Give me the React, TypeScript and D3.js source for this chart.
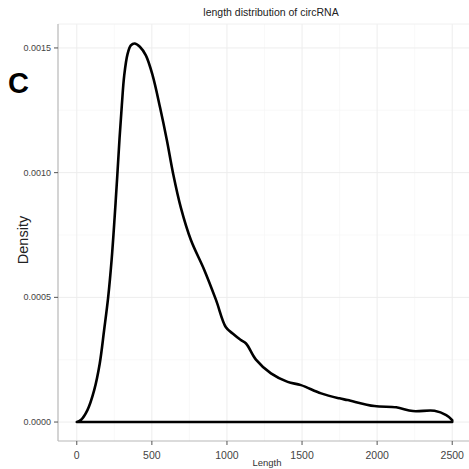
import React from "react";
import * as d3 from "d3";

const lengths = [0, 27, 71, 116, 153, 182, 209, 232, 252, 270, 285, 300, 316, 338, 360, 385, 420, 460, 505, 555, 600, 642, 693, 760, 849, 927, 993, 1038, 1090, 1127, 1193, 1293, 1404, 1493, 1627, 1749, 1804, 1982, 2127, 2238, 2382, 2460, 2500];
const densities = [0, 0.000008, 0.000048, 0.000128, 0.000235, 0.000368, 0.0005, 0.00065, 0.00082, 0.00099, 0.00114, 0.00127, 0.00139, 0.001475, 0.00151, 0.001518, 0.001505, 0.00147, 0.00139, 0.00126, 0.00113, 0.000995, 0.00086, 0.00073, 0.00061, 0.00049, 0.00038, 0.000355, 0.00033, 0.000315, 0.00025, 0.000195, 0.000161, 0.000148, 0.000115, 0.000095, 0.000088, 0.000064, 0.000059, 0.000044, 0.000045, 0.000028, 0.000008];
const xTicks = [0, 500, 1000, 1500, 2000, 2500];
const xMinor = [250, 750, 1250, 1750, 2250];
const yTicks = [0, 0.0005, 0.001, 0.0015];
const yTickLabels = ["0.0000", "0.0005", "0.0010", "0.0015"];
const yMinor = [0.00025, 0.00075, 0.00125];

export default function App() {
  const W = 469, H = 469;
  const left = 58, right = 471, top = 24, bottom = 441;
  const x = d3.scaleLinear().domain([-125, 2625]).range([left, right]);
  const y = d3.scaleLinear().domain([-0.000076, 0.001596]).range([bottom, top]);
  const pts = lengths.map((l, i) => [l, densities[i]] as [number, number]);
  const area = d3
    .area<[number, number]>()
    .x((d) => x(d[0]))
    .y0(() => y(0))
    .y1((d) => y(d[1]))
    .curve(d3.curveCatmullRom.alpha(0.5));
  const font = "'Liberation Sans', Arial, Helvetica, sans-serif";
  return (
    <svg width={W} height={H} style={{ position: "absolute", left: 0, top: 0, background: "#fff" }}>
      <rect x={left} y={top} width={right - left} height={bottom - top} fill="#fff" />
      {xMinor.map((t) => (
        <line key={"xm" + t} x1={x(t)} x2={x(t)} y1={top} y2={bottom} stroke="#f5f5f5" strokeWidth={0.6} />
      ))}
      {yMinor.map((t) => (
        <line key={"ym" + t} x1={left} x2={right} y1={y(t)} y2={y(t)} stroke="#f5f5f5" strokeWidth={0.6} />
      ))}
      {xTicks.map((t) => (
        <line key={"xg" + t} x1={x(t)} x2={x(t)} y1={top} y2={bottom} stroke="#ededed" strokeWidth={1} />
      ))}
      {yTicks.map((t) => (
        <line key={"yg" + t} x1={left} x2={right} y1={y(t)} y2={y(t)} stroke="#ededed" strokeWidth={1} />
      ))}
      <line x1={left} x2={right} y1={top} y2={top} stroke="#f0f0f0" strokeWidth={1} />
      <path d={area(pts) || ""} fill="none" stroke="#000" strokeWidth={2.6} strokeLinejoin="round" />
      <line x1={left} x2={left} y1={top} y2={bottom} stroke="#b8b8b8" strokeWidth={1.2} />
      <line x1={left} x2={right} y1={bottom} y2={bottom} stroke="#b8b8b8" strokeWidth={1.2} />
      {yTicks.map((t, i) => (
        <g key={"yt" + t}>
          <line x1={left - 4} x2={left} y1={y(t)} y2={y(t)} stroke="#555" strokeWidth={1} />
          <text x={left - 7} y={y(t)} dy="0.35em" textAnchor="end" fontSize={9} fill="#444" fontFamily={font}>
            {yTickLabels[i]}
          </text>
        </g>
      ))}
      {xTicks.map((t) => (
        <g key={"xt" + t}>
          <line x1={x(t)} x2={x(t)} y1={bottom} y2={bottom + 4} stroke="#555" strokeWidth={1} />
          <text x={x(t)} y={459} textAnchor="middle" fontSize={10.5} fill="#444" fontFamily={font}>
            {t}
          </text>
        </g>
      ))}
      <text x={267} y={466} textAnchor="middle" fontSize={9.5} fill="#333" fontFamily={font}>
        Length
      </text>
      <text
        transform={`translate(28,240) rotate(-90)`}
        textAnchor="middle"
        fontSize={14.5}
        fill="#222"
        fontFamily={font}
      >
        Density
      </text>
      <text x={271} y={16} textAnchor="middle" fontSize={10.5} fill="#222" fontFamily={font}>
        length distribution of circRNA
      </text>
      <text x={8} y={93} fontSize={29} fontWeight="bold" fill="#000" fontFamily={font}>
        C
      </text>
    </svg>
  );
}
